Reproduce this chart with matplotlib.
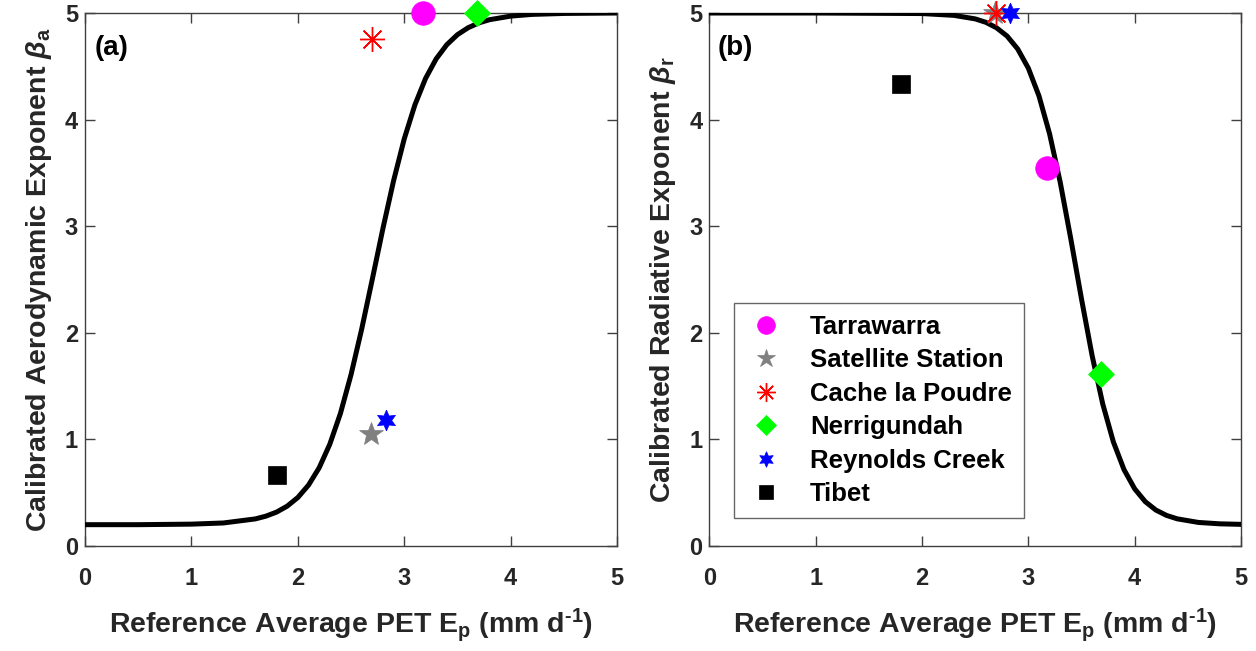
import numpy as np
import matplotlib
matplotlib.use("Agg")
import matplotlib.pyplot as plt

plt.rcParams['font.family'] = ['Liberation Sans', 'DejaVu Sans']
plt.rcParams['font.weight'] = 'bold'
plt.rcParams['mathtext.fontset'] = 'custom'
plt.rcParams['mathtext.rm'] = 'Liberation Sans:bold'
plt.rcParams['mathtext.bf'] = 'Liberation Sans:bold'
plt.rcParams['mathtext.it'] = 'Liberation Sans:italic'

# ── site data (reference PET, calibrated exponents) ─────────────────────
sites = ['Tarrawarra', 'Satellite Station', 'Cache la Poudre',
         'Nerrigundah', 'Reynolds Creek', 'Tibet']
site_pet = [3.18, 2.69, 2.70, 3.68, 2.83, 1.80]
beta_a = [5.0, 1.05, 4.76, 5.0, 1.18, 0.665]
beta_r = [3.55, 5.0, 5.0, 1.61, 5.0, 4.33]

# ── fitted curves ───────────────────────────────────────────────────────
curve_a_x = [0.0, 0.5, 1.0, 1.3, 1.6, 1.7, 1.8, 1.9, 2.0, 2.1, 2.2, 2.3, 2.4,
             2.5, 2.6, 2.7, 2.8, 2.9, 3.0, 3.1, 3.2, 3.3, 3.4, 3.5, 3.6, 3.7,
             3.8, 4.0, 4.2, 4.5, 5.0]
curve_a_y = [0.20, 0.20, 0.205, 0.216, 0.254, 0.280, 0.318, 0.374, 0.455,
             0.571, 0.733, 0.954, 1.243, 1.608, 2.035, 2.504, 2.981, 3.428,
             3.820, 4.138, 4.386, 4.570, 4.703, 4.797, 4.862, 4.907, 4.937,
             4.971, 4.987, 4.996, 5.0]
curve_r_x = [0.0, 1.0, 2.0, 2.3, 2.5, 2.6, 2.7, 2.8, 2.9, 3.0, 3.1, 3.2, 3.3,
             3.4, 3.5, 3.6, 3.7, 3.8, 3.9, 4.0, 4.1, 4.2, 4.3, 4.4, 4.6, 4.8,
             5.0]
curve_r_y = [5.0, 5.0, 4.995, 4.978, 4.945, 4.913, 4.862, 4.784, 4.663,
             4.483, 4.223, 3.867, 3.413, 2.880, 2.319, 1.787, 1.333, 0.977,
             0.717, 0.537, 0.416, 0.337, 0.287, 0.255, 0.221, 0.208, 0.203]

# marker styles per site
styles = [
    dict(marker='o', color='#ff00ff', ms=17),
    dict(marker='*', color='#808080', ms=18),
    dict(marker=(8, 2, 0), color='#ff0000', ms=18),
    dict(marker='D', color='#00ff00', ms=13),
    dict(marker=(6, 1, 0), color='#0000ff', ms=15),
    dict(marker='s', color='#000000', ms=13),
]

AX_COL = '#404040'
TXT_COL = '#262626'
XLABEL = r'Reference Average PET E$_\mathbf{p}$ (mm d$^\text{-1}$)'

fig = plt.figure(figsize=(12.56, 6.51), dpi=100)
ax_a = fig.add_axes([0.0677, 0.1613, 0.4236, 0.8187])
ax_b = fig.add_axes([0.5648, 0.1613, 0.4232, 0.8187])


def style_axes(ax):
    ax.set_xlim(0, 5)
    ax.set_ylim(0, 5)
    ax.set_xticks([0, 1, 2, 3, 4, 5])
    ax.set_yticks([0, 1, 2, 3, 4, 5])
    ax.tick_params(direction='in', length=7, width=1.0, color=AX_COL,
                   top=True, right=True, labelsize=17, labelcolor=TXT_COL)
    ax.tick_params(axis='x', pad=15)
    ax.tick_params(axis='y', pad=5)
    for lab in ax.get_xticklabels() + ax.get_yticklabels():
        lab.set_fontweight('bold')
    for sp in ax.spines.values():
        sp.set_color(AX_COL)
        sp.set_linewidth(1.0)
    ax.set_xlabel(XLABEL, fontsize=20.5, fontweight='bold', color=TXT_COL,
                  labelpad=12)


def draw_sites(ax, yvals):
    for name, x, y, st in zip(sites, site_pet, yvals, styles):
        mk = st['marker']
        hollow = isinstance(mk, tuple) and mk[1] == 2
        ax.plot([x], [y], linestyle='none', marker=mk, markersize=st['ms'],
                markerfacecolor=st['color'], markeredgecolor=st['color'],
                markeredgewidth=1.0 if hollow else 0.5, label=name,
                clip_on=False, zorder=4)


# ── (a) aerodynamic exponent ─────────────────────────────────────────────
ax_a.plot(curve_a_x, curve_a_y, color='black', linewidth=3.6, zorder=3)
draw_sites(ax_a, beta_a)
style_axes(ax_a)
ax_a.set_ylabel(r'Calibrated Aerodynamic Exponent $\beta_\mathbf{a}$',
                fontsize=20.5, fontweight='bold', color=TXT_COL, labelpad=8)
ax_a.text(0.09, 4.67, '(a)', fontsize=20, fontweight='bold', va='center')

# ── (b) radiative exponent ───────────────────────────────────────────────
ax_b.plot(curve_r_x, curve_r_y, color='black', linewidth=3.6, zorder=3)
draw_sites(ax_b, beta_r)
style_axes(ax_b)
ax_b.set_ylabel(r'Calibrated Radiative Exponent $\beta_\mathbf{r}$',
                fontsize=20.5, fontweight='bold', color=TXT_COL, labelpad=8)
ax_b.text(0.08, 4.67, '(b)', fontsize=20, fontweight='bold', va='center')

leg = ax_b.legend(loc='lower left', bbox_to_anchor=(0.047, 0.053),
                  fontsize=18.5, markerscale=0.75, frameon=True, fancybox=False,
                  handlelength=1.6, handletextpad=0.9, labelspacing=0.37,
                  borderpad=0.45, borderaxespad=0.0)
leg.get_frame().set_edgecolor(AX_COL)
leg.get_frame().set_linewidth(1.0)
for t in leg.get_texts():
    t.set_fontweight('bold')

fig.savefig('out.png', dpi=100)
